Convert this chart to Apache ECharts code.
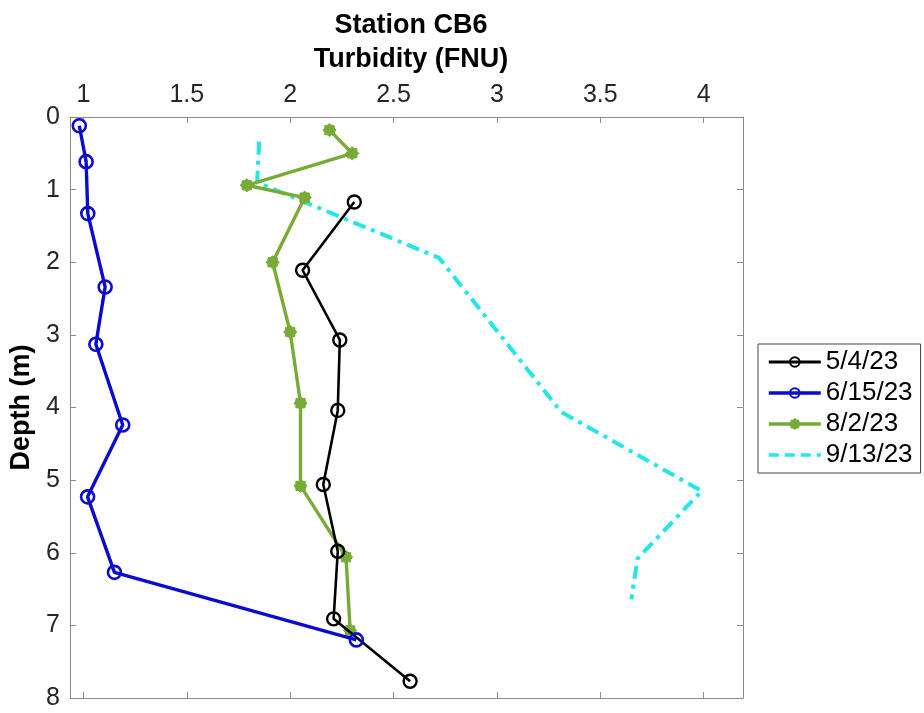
<!DOCTYPE html>
<html>
<head>
<meta charset="utf-8">
<script src="https://cdn.jsdelivr.net/npm/echarts@6/dist/echarts.min.js"></script>
<style>html,body{margin:0;padding:0;background:#fff}#c{width:924px;height:713px}</style>
</head>
<body>
<div id="c"></div>
<script>
// Data (turbidity FNU, depth m)
const seriesNames = ['5/4/23', '6/15/23', '8/2/23', '9/13/23'];
const depth_0504 = [1.17, 2.11, 3.07, 4.04, 5.06, 5.98, 6.91, 7.77];
const turb_0504  = [2.31, 2.06, 2.24, 2.23, 2.16, 2.23, 2.21, 2.58];
const depth_0615 = [0.12, 0.615, 1.33, 2.34, 3.13, 4.24, 5.23, 6.27, 7.2];
const turb_0615  = [0.98, 1.013, 1.021, 1.105, 1.06, 1.19, 1.02, 1.15, 2.32];
const depth_0802 = [0.18, 0.5, 0.94, 1.11, 2.0, 2.96, 3.94, 5.08, 6.06, 7.07];
const turb_0802  = [2.19, 2.30, 1.79, 2.07, 1.915, 2.0, 2.05, 2.05, 2.27, 2.29];
const depth_0913 = [0.34, 0.9, 1.94, 4.06, 5.15, 6.08, 6.64];
const turb_0913  = [1.85, 1.84, 2.72, 3.31, 3.99, 3.68, 3.65];
const xTicks = [1, 1.5, 2, 2.5, 3, 3.5, 4];
const yTicks = [0, 1, 2, 3, 4, 5, 6, 7, 8];

const pairs = (xs, ys) => xs.map((x, i) => [x, ys[i]]);
const FONT = '"Liberation Sans", Arial, Helvetica, sans-serif';
const axisGray = '#8a8a8a';
const labelColor = '#262626';
const xMin = 0.935, xMax = 4.19;

const chart = echarts.init(document.getElementById('c'), null, {renderer: 'canvas'});
const blob = 'path://M0,-10 L3.2,-7.3 L7.1,-7.1 L7.3,-3.2 L10,0 L7.3,3.2 L7.1,7.1 L3.2,7.3 L0,10 L-3.2,7.3 L-7.1,7.1 L-7.3,3.2 L-10,0 L-7.3,-3.2 L-7.1,-7.1 L-3.2,-7.3 Z';

chart.setOption({
  backgroundColor: '#fff',
  animation: false,
  textStyle: {fontFamily: FONT},
  title: {
    text: 'Station CB6\nTurbidity (FNU)',
    left: 406, top: 4, textAlign: 'center',
    textStyle: {fontFamily: FONT, fontWeight: 'bold', fontSize: 27, lineHeight: 34, color: '#000'}
  },
  legend: {
    orient: 'vertical', left: 758, top: 344,
    data: [
      {name: seriesNames[0], lineStyle: {width: 3}},
      {name: seriesNames[1], lineStyle: {width: 3.4}},
      {name: seriesNames[2], lineStyle: {width: 3.6}},
      {name: seriesNames[3], lineStyle: {width: 3.6, type: [10, 6]}, itemStyle: {opacity: 0}}
    ],
    itemWidth: 52, itemHeight: 12, itemGap: 5,
    padding: [5, 8, 5, 9],
    borderColor: '#444', borderWidth: 1, borderRadius: 0,
    backgroundColor: '#fff',
    textStyle: {fontFamily: FONT, fontSize: 26, lineHeight: 26, color: '#000'}
  },
  grid: {left: 70, right: 181, top: 117, bottom: 15, containLabel: false},
  xAxis: [{
    type: 'value', position: 'top', min: xMin, max: xMax,
    axisLine: {show: true, onZero: false, lineStyle: {color: axisGray, width: 1}},
    axisTick: {show: true, inside: true, length: 6, customValues: xTicks, lineStyle: {color: axisGray}},
    axisLabel: {show: true, customValues: xTicks, margin: 9, fontSize: 25, color: labelColor, fontFamily: FONT,
      formatter: v => String(v)},
    splitLine: {show: false}
  }, {
    type: 'value', position: 'bottom', min: xMin, max: xMax,
    axisLine: {show: true, onZero: false, lineStyle: {color: axisGray, width: 1}},
    axisTick: {show: true, inside: true, length: 6, customValues: xTicks, lineStyle: {color: axisGray}},
    axisLabel: {show: false},
    splitLine: {show: false}
  }],
  yAxis: [{
    type: 'value', position: 'left', inverse: true, min: 0, max: 8, interval: 1,
    name: 'Depth (m)', nameLocation: 'middle', nameRotate: 90, nameGap: 31,
    nameTextStyle: {fontFamily: FONT, fontWeight: 'bold', fontSize: 27, color: '#000'},
    axisLine: {show: true, onZero: false, lineStyle: {color: axisGray, width: 1}},
    axisTick: {show: true, inside: true, length: 6, lineStyle: {color: axisGray}},
    axisLabel: {show: true, margin: 10, fontSize: 25, color: labelColor, fontFamily: FONT},
    splitLine: {show: false}
  }, {
    type: 'value', position: 'right', inverse: true, min: 0, max: 8, interval: 1,
    axisLine: {show: true, onZero: false, lineStyle: {color: axisGray, width: 1}},
    axisTick: {show: true, inside: true, length: 6, lineStyle: {color: axisGray}},
    axisLabel: {show: false},
    splitLine: {show: false}
  }],
  series: [
    {
      name: seriesNames[0], type: 'line', data: pairs(turb_0504, depth_0504),
      symbol: 'circle', symbolSize: 13, showAllSymbol: true,
      lineStyle: {color: '#000', width: 2.6},
      itemStyle: {color: 'rgba(255,255,255,0)', borderColor: '#000', borderWidth: 2.4},
      z: 4
    },
    {
      name: seriesNames[1], type: 'line', data: pairs(turb_0615, depth_0615),
      symbol: 'circle', symbolSize: 13, showAllSymbol: true,
      lineStyle: {color: '#0a0ad0', width: 3.4},
      itemStyle: {color: 'rgba(255,255,255,0)', borderColor: '#0a0ad0', borderWidth: 2.6},
      z: 5
    },
    {
      name: seriesNames[2], type: 'line', data: pairs(turb_0802, depth_0802),
      symbol: blob, symbolSize: 13, showAllSymbol: true,
      lineStyle: {color: '#77ab35', width: 3.4},
      itemStyle: {color: '#77ab35', borderColor: '#77ab35', borderWidth: 1},
      z: 3
    },
    {
      name: seriesNames[3], type: 'line', data: pairs(turb_0913, depth_0913),
      symbol: 'none', showSymbol: false,
      lineStyle: {color: '#22e6e8', width: 4, type: [13, 6, 4, 6]},
      itemStyle: {color: '#22e6e8'},
      z: 2
    }
  ]
});
</script>
</body>
</html>
